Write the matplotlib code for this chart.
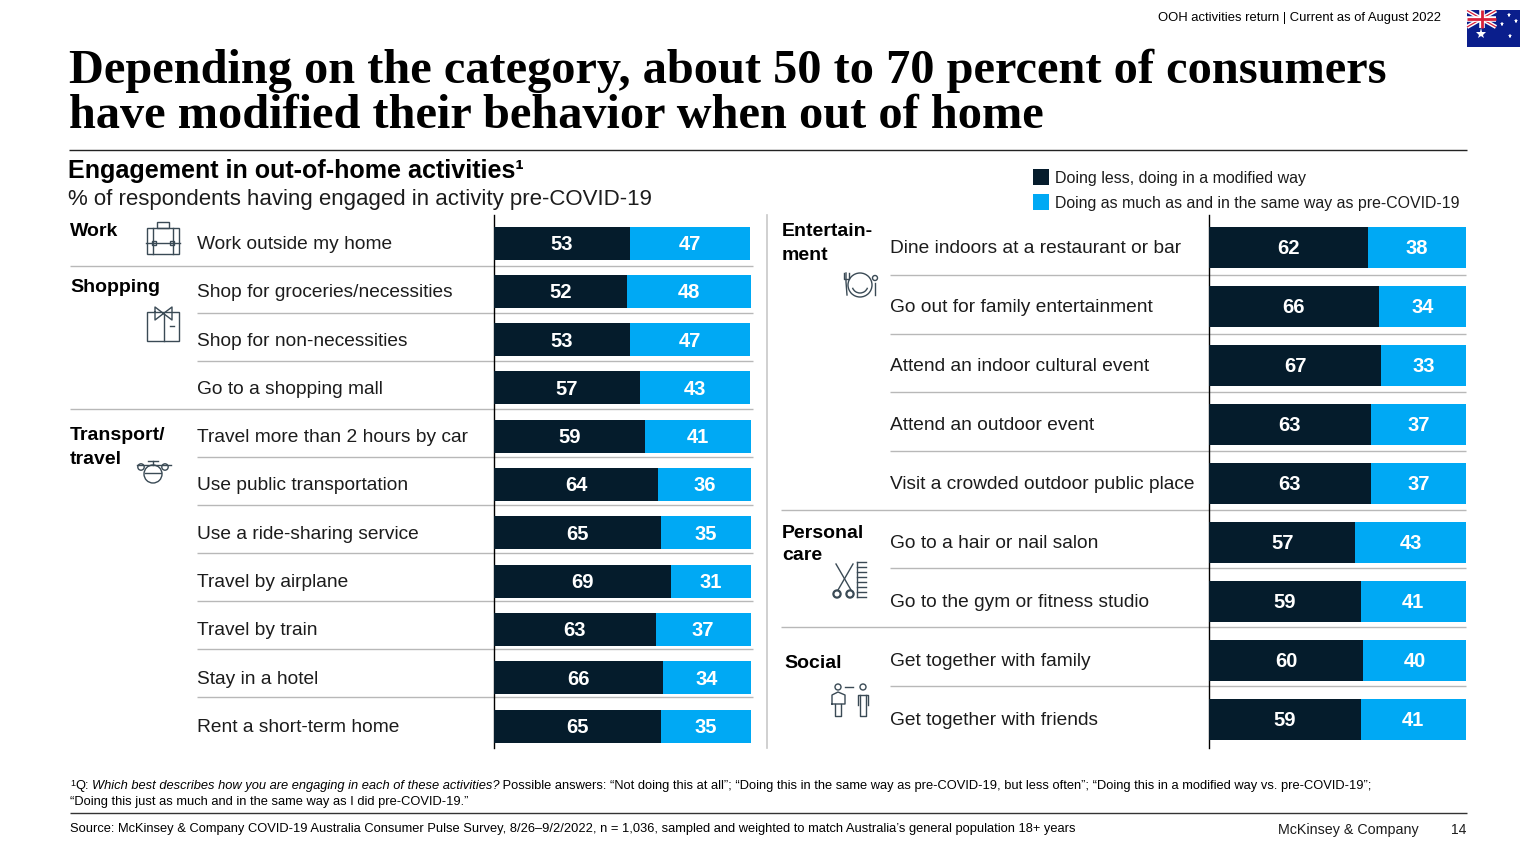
import matplotlib
matplotlib.use('Agg')
import matplotlib.pyplot as plt
from matplotlib.patches import Rectangle, Circle, Arc

plt.rcParams['font.family'] = ['Liberation Sans', 'DejaVu Sans']

W, H = 1536, 864
DARK = '#051C2C'
BLUE = '#00A9F4'
GREY = '#b8b8b8'
TXT = '#1c1c1c'

# left panel
left_labels = ['Work outside my home', 'Shop for groceries/necessities', 'Shop for non-necessities',
               'Go to a shopping mall', 'Travel more than 2 hours by car', 'Use public transportation',
               'Use a ride-sharing service', 'Travel by airplane', 'Travel by train', 'Stay in a hotel',
               'Rent a short-term home']
left_less = [53, 52, 53, 57, 59, 64, 65, 69, 63, 66, 65]
left_same = [47, 48, 47, 43, 41, 36, 35, 31, 37, 34, 35]

# right panel
right_labels = ['Dine indoors at a restaurant or bar', 'Go out for family entertainment',
                'Attend an indoor cultural event', 'Attend an outdoor event',
                'Visit a crowded outdoor public place', 'Go to a hair or nail salon',
                'Go to the gym or fitness studio', 'Get together with family', 'Get together with friends']
right_less = [62, 66, 67, 63, 63, 57, 59, 60, 59]
right_same = [38, 34, 33, 37, 37, 43, 41, 40, 41]

fig = plt.figure(figsize=(W / 100, H / 100), dpi=100, facecolor='white')

# overlay in pixel coordinates for text, rules and icons
bg = fig.add_axes([0, 0, 1, 1])
bg.set_xlim(0, W)
bg.set_ylim(H, 0)
bg.axis('off')


def bars(x0, x1, top, bottom, first, step, less, same, bar_h):
    ax = fig.add_axes([x0 / W, 1 - bottom / H, (x1 - x0) / W, (bottom - top) / H])
    ax.patch.set_alpha(0)
    ax.set_xlim(0, 100)
    ax.set_ylim((bottom - first) / step, (top - first) / step)
    ax.axis('off')
    ys = list(range(len(less)))
    ax.barh(ys, less, height=bar_h / step, color=DARK)
    ax.barh(ys, same, left=less, height=bar_h / step, color=BLUE)
    for y, a, b in zip(ys, less, same):
        ax.text(a / 2, y + 0.03, str(a), color='white', fontsize=14.5, fontweight='bold', ha='center', va='center')
        ax.text(a + b / 2, y + 0.03, str(b), color='white', fontsize=14.5, fontweight='bold', ha='center', va='center')
    return ax


def rule(x0, x1, y, color=GREY, lw=1.0):
    bg.plot([x0, x1], [y, y], color=color, lw=lw, solid_capstyle='butt')


# rows of the two panels
left_rows = [243 + 48.3 * i for i in range(len(left_labels))]
right_rows = [247 + 59 * i for i in range(len(right_labels))]

for y, lab in zip(left_rows, left_labels):
    bg.text(197, y + 1.5, lab, fontsize=13.75, color=TXT, va='center', ha='left')
for y, lab in zip(right_rows, right_labels):
    bg.text(890.5, y + 1.5, lab, fontsize=13.75, color=TXT, va='center', ha='left')

# separators
for y, x0 in [(266, 70), (313, 197), (361, 197), (409, 70), (457, 197), (505, 197),
              (553, 197), (601, 197), (649, 197), (697, 197)]:
    rule(x0, 753, y)
for y, x0 in [(275, 890), (334, 890), (392, 890), (451, 890), (510, 781), (568, 890),
              (627, 781), (686, 890)]:
    rule(x0, 1466, y)

bars(494, 750.5, 215, 748, left_rows[0], 48.3, left_less, left_same, 33)
bars(1209, 1466, 215, 748, right_rows[0], 59, right_less, right_same, 41)

bg.plot([493.5, 493.5], [215, 748], color='black', lw=1.0)
bg.plot([1208.5, 1208.5], [215, 748], color='black', lw=1.0)
bg.plot([767, 767], [215, 748], color='#c8c8c8', lw=1.2)

# groups
for x, y, s in [(70, 231, 'Work'), (70, 288, 'Shopping'), (70, 436, 'Transport/'), (70, 459, 'travel'),
                (782, 231, 'Entertain-'), (782, 255, 'ment'), (782, 533, 'Personal'), (782, 556, 'care'),
                (784, 664, 'Social')]:
    bg.text(x, y, s, fontsize=14, fontweight='bold', color='black', va='center', ha='left')

# title block
bg.text(69, 71, 'Depending on the category, about 50 to 70 percent of consumers', family='Liberation Serif',
        fontsize=34.8, fontweight='bold', color='black', va='center', ha='left')
bg.text(69, 116, 'have modified their behavior when out of home', family='Liberation Serif',
        fontsize=34.8, fontweight='bold', color='black', va='center', ha='left')
bg.text(1441, 18.5, 'OOH activities return | Current as of August 2022', fontsize=9.35, color='black', va='center', ha='right')
rule(69, 1467, 150, color='#222222', lw=1)
bg.text(68, 171, 'Engagement in out-of-home activities\u00b9', fontsize=18.1, fontweight='bold', color='black', va='center')
bg.text(68, 200, '% of respondents having engaged in activity pre-COVID-19', fontsize=16.05, color=TXT, va='center')

# legend
bg.add_patch(Rectangle((1033, 169), 16, 16, color=DARK, lw=0))
bg.add_patch(Rectangle((1033, 194), 16, 16, color=BLUE, lw=0))
bg.text(1055, 178.5, 'Doing less, doing in a modified way', fontsize=11.5, color=TXT, va='center')
bg.text(1055, 203.5, 'Doing as much as and in the same way as pre-COVID-19', fontsize=11.47, color=TXT, va='center')

# footnote, pieces placed one after the other
fig.canvas.draw()
rend = fig.canvas.get_renderer()
x = 70
for s, st in [('1', None), ('Q:', 'normal'), ('Which best describes how you are engaging in each of these activities?', 'italic'),
              (' Possible answers: \u201cNot doing this at all\u201d; \u201cDoing this in the same way as pre-COVID-19, but less often\u201d; \u201cDoing this in a modified way vs. pre-COVID-19\u201d;', 'normal')]:
    if st is None:
        t = bg.text(x, 783, s, fontsize=6.5, color='black', va='center')
    else:
        t = bg.text(x, 786, s, fontsize=9.26, style=st, color='black', va='center')
    x = t.get_window_extent(rend).x1 + (3 if s.startswith('Q') else 0)
bg.text(70, 802, '\u201cDoing this just as much and in the same way as I did pre-COVID-19.\u201d', fontsize=9.26, color='black', va='center')
rule(70, 1467, 813, color='#333333', lw=1)
bg.text(70, 829, 'Source: McKinsey & Company COVID-19 Australia Consumer Pulse Survey, 8/26\u20139/2/2022, n = 1,036, sampled and weighted to match Australia\u2019s general population 18+ years',
        fontsize=9.27, color='black', va='center')
bg.text(1278, 830, 'McKinsey & Company', fontsize=10.3, color=TXT, va='center')
bg.text(1466, 830, '14', fontsize=10, color=TXT, va='center', ha='right')

# flag
bg.add_patch(Rectangle((1467, 10), 53, 37, color='#0a1e8c', lw=0))
bg.plot([1467, 1496], [10.5, 27], color='white', lw=3, solid_capstyle='butt')
bg.plot([1467, 1496], [27, 10.5], color='white', lw=3, solid_capstyle='butt')
bg.plot([1467, 1496], [10.5, 27], color='#d8203a', lw=0.9, solid_capstyle='butt')
bg.plot([1467, 1496], [27, 10.5], color='#d8203a', lw=0.9, solid_capstyle='butt')
bg.plot([1481.5, 1481.5], [10, 27.5], color='white', lw=4, solid_capstyle='butt')
bg.plot([1467, 1496], [19, 19], color='white', lw=4, solid_capstyle='butt')
bg.plot([1481.5, 1481.5], [10, 27.5], color='#d8203a', lw=2, solid_capstyle='butt')
bg.plot([1467, 1496], [19, 19], color='#d8203a', lw=2, solid_capstyle='butt')
bg.plot([1481], [34], marker='*', ms=8, color='white', mew=0)
for px, py in [(1509, 15), (1502, 24), (1516, 21), (1510, 36)]:
    bg.plot([px], [py], marker='*', ms=3.6, color='white', mew=0)

# icons
ICON = '#3a4a55'
lw_i = 1


def box(x, y, w, h, fc='none', ec=ICON):
    bg.add_patch(Rectangle((x, y), w, h, fc=fc, ec=ec, lw=lw_i))


def seg(*pts):
    bg.plot([p[0] for p in pts], [p[1] for p in pts], color=ICON, lw=lw_i)


# briefcase
bg.add_patch(Rectangle((147, 228), 32, 26, fc='none', ec=ICON, lw=lw_i))
box(157, 222, 12, 6)
seg((146, 243), (180, 243))
box(152, 241, 4, 4, fc='white')
box(170, 241, 4, 4, fc='white')
seg((153, 228), (153, 254))
seg((173, 228), (173, 254))
# shirt
box(147, 312, 32, 29)
seg((155, 312), (155, 307), (172, 320), (172, 307), (155, 320), (155, 312))
seg((164, 314), (164, 341))
seg((170, 326), (174, 326))
# plane
bg.add_patch(Circle((153, 474), 9, fc='none', ec=ICON, lw=lw_i))
seg((137, 465), (171, 465))
seg((153, 461), (153, 465))
seg((148, 461), (158, 461))
seg((145, 473), (161, 473))
for cx in (141, 165):
    bg.add_patch(Circle((cx, 467), 3.2, fc='white', ec=ICON, lw=lw_i))
# plate
bg.add_patch(Circle((860, 285), 12, fc='none', ec=ICON, lw=lw_i))
bg.add_patch(Arc((860, 285), 16, 16, theta1=20, theta2=160, ec=ICON, lw=lw_i))
seg((846, 273), (846, 282), (847, 295))
seg((844, 273), (844, 279), (849, 279), (849, 273))
seg((875, 283), (875, 295))
bg.add_patch(Circle((875, 278), 2.5, fc='none', ec=ICON, lw=lw_i))
# scissors and comb
seg((836, 564), (851, 590))
seg((853, 564), (838, 590))
for cx in (837, 850):
    bg.add_patch(Circle((cx, 594), 3.6, fc='none', ec=ICON, lw=1.6))
seg((857, 562), (857, 597))
seg((857, 562), (866, 562))
seg((857, 597), (866, 597))
for yy in range(567, 595, 5):
    seg((857, yy), (866, yy))
# people
seg((845, 687), (853, 687))
for cx in (838, 863):
    bg.add_patch(Circle((cx, 687), 3, fc='none', ec=ICON, lw=lw_i))
seg((832, 704), (832, 695), (838, 692), (845, 695), (845, 704), (832, 704))
seg((835, 704), (835, 716), (841, 716), (841, 704))
seg((858, 705), (858, 695), (868, 695), (868, 705))
seg((860, 695), (860, 716), (866, 716), (866, 695))

fig.savefig('out.png', dpi=100, facecolor='white')
